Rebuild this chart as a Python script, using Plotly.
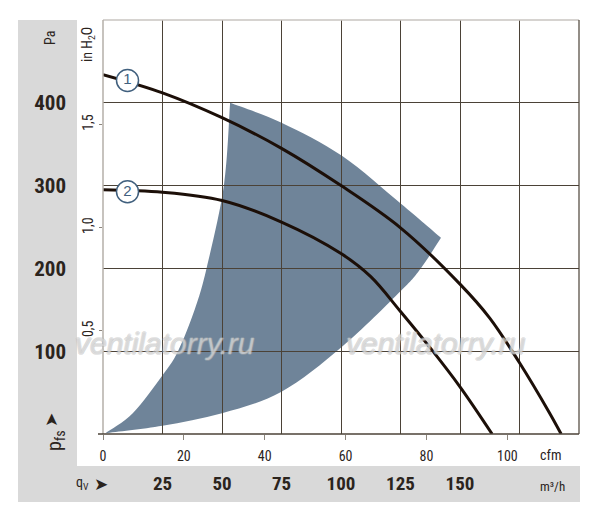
import plotly.graph_objects as go

# fan curves, q in m3/h, p in Pa
curve1_q = [0, 25, 50, 75, 100, 125, 150, 162.5, 175, 187.5, 192.5]
curve1_p = [434, 412, 382, 345, 300, 249, 181, 140, 86, 26, 0]
curve2_q = [0, 25, 50, 75, 100, 112.5, 125, 137.5, 150, 163.5]
curve2_p = [295, 292, 282, 256, 218, 190, 148, 104, 57, 0]

# shaded operating range, three edges
left_q = [1, 12.5, 25, 31.5, 38.5, 43.5, 50.8, 53.4]
left_p = [1, 25, 71, 100, 150, 200, 300, 400]
top_q = [53.4, 75, 100.4, 125.2, 142]
top_p = [400, 376, 336, 278, 237]
low_q = [142, 133.5, 125.2, 100.3, 75, 50, 25, 1]
low_p = [237, 200, 173, 105, 51, 25, 10, 1]

# curve number markers
label_q = [10.3, 10.3]
label_p = [427, 292.5]
label_txt = ["1", "2"]

m3h_ticks = [25, 50, 75, 100, 125, 150, 175]
m3h_text = ["25", "50", "75", "100", "125", "150", ""]
pa_ticks = [100, 200, 300, 400]
cfm_ticks = [0, 20, 40, 60, 80, 100]
inh2o_ticks = [0.5, 1.0, 1.5]

W, H = 600, 523
L, R, T, B = 103, 21, 20, 89
PW, PH = W - L - R, H - T - B


def px(x):
    return (x - L) / PW


def py(y):
    return (H - B - y) / PH


def bez(qs, ps):
    # catmull-rom through the read points -> cubic bezier segments
    pts = list(zip(qs, ps))
    s = ""
    n = len(pts)
    for i in range(n - 1):
        p0 = pts[i - 1] if i > 0 else pts[i]
        p1 = pts[i]
        p2 = pts[i + 1]
        p3 = pts[i + 2] if i + 2 < n else pts[i + 1]
        c1 = (p1[0] + (p2[0] - p0[0]) / 6, p1[1] + (p2[1] - p0[1]) / 6)
        c2 = (p2[0] - (p3[0] - p1[0]) / 6, p2[1] - (p3[1] - p1[1]) / 6)
        s += " C%g,%g %g,%g %g,%g" % (c1[0], c1[1], c2[0], c2[1], p2[0], p2[1])
    return s


path = "M%g,%g" % (left_q[0], left_p[0]) + bez(left_q, left_p) + bez(top_q, top_p) + bez(low_q, low_p) + " Z"

FONT = "Liberation Sans Narrow, Arial Narrow, Roboto Condensed, sans-serif"
TXT = "#2b241d"
GRID = "#4b4237"
FILL = "#6f8499"

fig = go.Figure()
fig.add_trace(go.Scatter(x=curve1_q, y=curve1_p, mode="lines",
                         line=dict(color="#1c0f08", width=3, shape="spline", smoothing=1),
                         hoverinfo="skip", showlegend=False))
fig.add_trace(go.Scatter(x=curve2_q, y=curve2_p, mode="lines",
                         line=dict(color="#1c0f08", width=3, shape="spline", smoothing=1),
                         hoverinfo="skip", showlegend=False))
fig.add_trace(go.Scatter(x=label_q, y=label_p, mode="markers+text", text=label_txt, textposition="middle center",
                         textfont=dict(family="Liberation Sans, Arial, sans-serif", size=15, color="#41607e"),
                         marker=dict(size=22, color="white", line=dict(color="#41607e", width=1.5)),
                         hoverinfo="skip", showlegend=False))
# invisible traces so the cfm and inH2O axes get drawn
fig.add_trace(go.Scatter(x=[0], y=[0], xaxis="x2", yaxis="y", mode="markers", marker=dict(opacity=0),
                         hoverinfo="skip", showlegend=False))
fig.add_trace(go.Scatter(x=[0], y=[0], xaxis="x", yaxis="y2", mode="markers", marker=dict(opacity=0),
                         hoverinfo="skip", showlegend=False))

shapes = [
    dict(type="path", xref="x", yref="y", path=path, fillcolor=FILL, line=dict(width=0), layer="below"),
    dict(type="rect", xref="paper", yref="paper", x0=px(18), x1=px(77), y0=py(502), y1=1,
         fillcolor="#d9d9d9", line=dict(width=0), layer="below"),
    dict(type="rect", xref="paper", yref="paper", x0=px(18), x1=px(580), y0=py(502), y1=py(466),
         fillcolor="#d9d9d9", line=dict(width=0), layer="below"),
    dict(type="line", xref="paper", yref="paper", x0=0, x1=1, y0=1, y1=1, line=dict(color="#c9c5c0", width=1.5)),
    dict(type="line", xref="paper", yref="paper", x0=0, x1=0, y0=0, y1=1, line=dict(color="#b5afa8", width=1.5)),
    dict(type="line", xref="paper", yref="paper", x0=1, x1=1, y0=0, y1=1, line=dict(color=GRID, width=1.2)),
    dict(type="line", xref="paper", yref="paper", x0=px(98), x1=1, y0=0, y1=0, line=dict(color=GRID, width=1.5)),
]


def ann(text, x, y, size, angle=0, family=FONT, color=TXT, **kw):
    return dict(text=text, x=px(x), y=py(y), xref="paper", yref="paper",
                showarrow=False, textangle=angle, xanchor="center", yanchor="middle",
                font=dict(family=family, size=size, color=color, **kw))


WM_SHADOW = "-1px 0 #b4b4b4, 1px 0 #b4b4b4, 0 -1px #b4b4b4, 0 1px #b4b4b4"
annotations = [
    ann("Pa", 50, 38, 14, -90),
    ann("in H<sub>2</sub>O", 88, 45, 14, -90),
    ann("p<sub>fs</sub>", 55, 441, 20, -90),
    ann("➤", 51, 420, 17, -90, family="DejaVu Sans"),
    ann("q<sub>V</sub>", 82, 483, 14),
    ann("➤", 101, 484, 17, family="DejaVu Sans"),
    ann("cfm", 550, 455, 14),
    ann("m³/h", 552, 486, 13),
    ann("ventilatorry.ru", 165, 343, 30, style="italic", family="Liberation Sans, Arial, sans-serif",
        color="rgba(255,255,255,0.35)", shadow=WM_SHADOW),
    ann("ventilatorry.ru", 436, 343, 30, style="italic", family="Liberation Sans, Arial, sans-serif",
        color="rgba(255,255,255,0.35)", shadow=WM_SHADOW),
]

fig.update_layout(
    width=W, height=H, margin=dict(l=L, r=R, t=T, b=B, autoexpand=False),
    paper_bgcolor="white", plot_bgcolor="white",
    separators=", ",
    showlegend=False,
    shapes=shapes, annotations=annotations,
    xaxis=dict(range=[0, 200], tickvals=m3h_ticks, ticktext=m3h_text, showgrid=True, gridcolor=GRID,
               gridwidth=1, zeroline=False, showline=False, ticks="", ticklabelstandoff=36, automargin=False,
               tickfont=dict(family=FONT, size=19, color=TXT, weight="bold")),
    xaxis2=dict(overlaying="x", anchor="y", side="bottom", range=[0, 200 / 1.699], tickvals=cfm_ticks,
                showgrid=False, zeroline=False, showline=False, ticks="outside", ticklen=5, tickcolor="#8c857c",
                ticklabelstandoff=4, automargin=False, tickfont=dict(family=FONT, size=14, color=TXT)),
    yaxis=dict(range=[0, 500], tickvals=pa_ticks, showgrid=True, gridcolor=GRID, gridwidth=1, zeroline=False,
               showline=False, ticks="", ticklabelstandoff=36, automargin=False,
               tickfont=dict(family=FONT, size=21, color=TXT, weight="bold")),
    yaxis2=dict(overlaying="y", anchor="x", side="left", range=[0, 500 / 249.089], tickvals=inh2o_ticks,
                tickformat=".1f", tickangle=-90, showgrid=False, zeroline=False, showline=False,
                ticks="outside", ticklen=3, tickcolor="#8c857c", automargin=False,
                tickfont=dict(family=FONT, size=14, color=TXT)),
)

# page body margin would shift the figure by 8px
fig.write_html("out.html", config={"displayModeBar": False},
               post_script="document.body.style.margin='0px';")
